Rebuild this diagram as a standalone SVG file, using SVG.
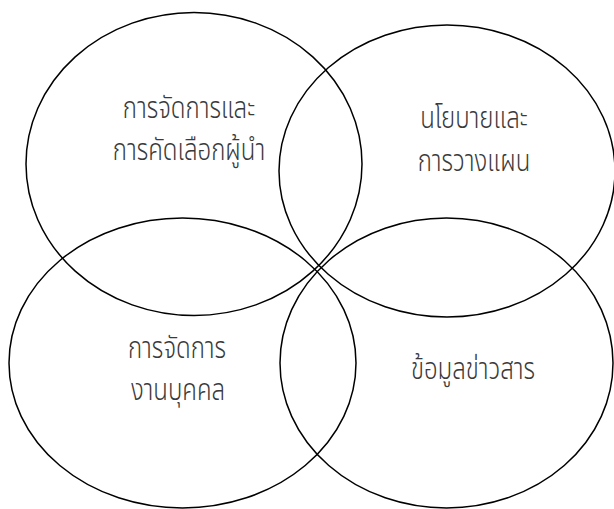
<svg xmlns="http://www.w3.org/2000/svg" width="614" height="509" viewBox="0 0 614 509">
<style>
.c{fill:none;stroke:#000;stroke-width:1.5}
.t{font-family:"Noto Sans Thai","Noto Sans Thai Looped","Noto Sans","DejaVu Sans",sans-serif;font-size:24px;font-weight:300;fill:#3a3a3a;text-anchor:middle}
</style>
<rect width="614" height="509" fill="#fff"/>
<g id="n1"><ellipse class="c" cx="194" cy="164" rx="168" ry="151.5"/>
<text class="t" transform="translate(189,118) scale(1,1.25)">การจัดการและ</text><text class="t" transform="translate(189,160) scale(1,1.25)">การคัดเลือกผู้นำ</text></g>
<g id="n2"><ellipse class="c" cx="447" cy="171" rx="168" ry="146"/>
<text class="t" transform="translate(474,128) scale(1,1.25)">นโยบายและ</text><text class="t" transform="translate(474,171) scale(1,1.25)">การวางแผน</text></g>
<g id="n3"><ellipse class="c" cx="182.5" cy="363" rx="173.5" ry="145"/>
<text class="t" transform="translate(177,358) scale(1,1.25)">การจัดการ</text><text class="t" transform="translate(178,400) scale(1,1.25)">งานบุคคล</text></g>
<g id="n4"><ellipse class="c" cx="446.5" cy="363" rx="166.5" ry="145"/>
<text class="t" transform="translate(473,379) scale(1,1.25)">ข้อมูลข่าวสาร</text></g>
<g id="connectors"></g>
</svg>
